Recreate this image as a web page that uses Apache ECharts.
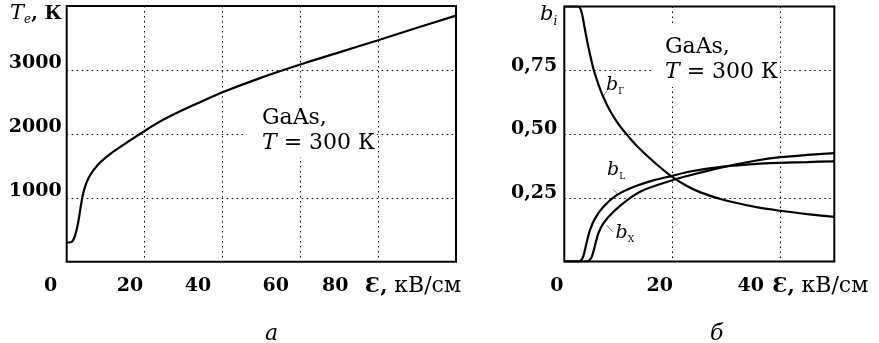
<!DOCTYPE html>
<html>
<head>
<meta charset="utf-8">
<script src="https://cdn.jsdelivr.net/npm/echarts@6/dist/echarts.min.js"></script>
<style>
  html, body { margin: 0; padding: 0; background: #fff; }
  #chart { width: 879px; height: 343px; }
</style>
</head>
<body>
<div id="chart"></div>
<script>
// panel a: electron temperature vs field
const teField = [0, 1, 1.6, 2.2, 2.7, 3.2, 3.6, 4.4, 5.7, 7.9, 11.3, 15.6, 20, 24, 29, 34.4, 40, 50, 60, 70, 80, 90, 100];
const teValues = [300, 305, 330, 420, 540, 700, 860, 1110, 1320, 1510, 1690, 1870, 2045, 2195, 2350, 2500, 2650, 2880, 3085, 3275, 3465, 3660, 3850];

// panel b: valley populations
const gammaField = [0, 2.4, 2.9, 3.3, 3.65, 4.1, 4.75, 5.4, 6.3, 7.2, 8.5, 10, 11.6, 13.4, 16.5, 19.6, 22.7, 25.1, 29.4, 35.6, 40, 45, 50];
const gammaValues = [1.0, 1.0, 0.995, 0.97, 0.93, 0.878, 0.813, 0.755, 0.696, 0.646, 0.59, 0.54, 0.497, 0.454, 0.392, 0.338, 0.296, 0.272, 0.242, 0.213, 0.199, 0.186, 0.175];
const lField = [0, 2.6, 3.1, 3.5, 4.1, 4.75, 5.7, 7.2, 9.7, 12.8, 16.5, 19.6, 23.3, 29.4, 35.6, 40, 45, 50];
const lValues = [0, 0, 0.005, 0.019, 0.071, 0.123, 0.169, 0.214, 0.26, 0.292, 0.318, 0.334, 0.353, 0.372, 0.383, 0.387, 0.39, 0.393];
const xField = [0, 4.0, 4.6, 5.1, 5.7, 6.3, 7.2, 9.1, 11.6, 14.6, 19, 23.3, 29.4, 35.6, 40, 45, 50];
const xValues = [0, 0, 0.004, 0.019, 0.064, 0.11, 0.149, 0.195, 0.24, 0.279, 0.312, 0.338, 0.37, 0.396, 0.409, 0.418, 0.425];

const teTicks = [1000, 2000, 3000];
const bTicks = [0.25, 0.5, 0.75];

function pairs(xs, ys) {
    return xs.map((x, i) => [x, ys[i]]);
}

const SERIF = 'DejaVu Serif';
const tickFont = { fontFamily: SERIF, fontWeight: 'bold', fontSize: 19, color: '#000' };
const dotted = { show: true, lineStyle: { color: '#000', width: 1, type: [1.5, 3.5] } };
const curve = { color: '#000', width: 2.2 };

const nameRich = {
    e: { fontFamily: SERIF, fontWeight: 'bold', fontSize: 21, color: '#000', lineHeight: 20 },
    u: { fontFamily: SERIF, fontSize: 22, color: '#000', lineHeight: 20 }
};
const symRich = {
    t: { fontFamily: SERIF, fontStyle: 'italic', fontSize: 21, color: '#000', lineHeight: 24, verticalAlign: 'bottom', padding: [0, 0, 2, 0] },
    s: { fontFamily: SERIF, fontStyle: 'italic', fontSize: 12, color: '#000', lineHeight: 12, verticalAlign: 'bottom' },
    k: { fontFamily: SERIF, fontWeight: 'bold', fontSize: 19, color: '#000', lineHeight: 24, verticalAlign: 'bottom', padding: [0, 0, 2, 0] }
};
const curveRich = {
    t: { fontFamily: SERIF, fontStyle: 'italic', fontSize: 19, color: '#000', lineHeight: 22, verticalAlign: 'bottom', padding: [0, 0, 2, 0] },
    s: { fontFamily: SERIF, fontSize: 9, color: '#000', lineHeight: 10, verticalAlign: 'bottom' }
};
const boxRich = {
    r: { fontFamily: SERIF, fontSize: 22, color: '#000', lineHeight: 25 },
    i: { fontFamily: SERIF, fontSize: 22, fontStyle: 'italic', color: '#000', lineHeight: 25 }
};

function curveLabel(coord, sub) {
    return {
        coord: coord,
        symbol: 'circle',
        symbolSize: 0,
        label: { show: true, position: 'inside', formatter: '{t|b}{s|' + sub + '}', rich: curveRich }
    };
}
const leader = { color: '#555', width: 0.8, type: 'solid' };

const myChart = echarts.init(document.getElementById('chart'));
myChart.setOption({
    animation: false,
    backgroundColor: '#fff',
    title: [
        { text: 'а', left: 260, top: 318, textStyle: { fontFamily: SERIF, fontStyle: 'italic', fontWeight: 'normal', fontSize: 22, color: '#000' } },
        { text: 'б', left: 705, top: 318, textStyle: { fontFamily: SERIF, fontStyle: 'italic', fontWeight: 'normal', fontSize: 22, color: '#000' } }
    ],
    grid: [
        { left: 66.7, right: 423, top: 6, bottom: 81.3, show: true, borderColor: '#000', borderWidth: 2 },
        { left: 564.3, right: 44.7, top: 6.5, bottom: 81.5, show: true, borderColor: '#000', borderWidth: 2 }
    ],
    xAxis: [
        {
            type: 'value', gridIndex: 0, min: 0, max: 100, interval: 20,
            axisLine: { show: false }, axisTick: { show: false }, splitLine: dotted,
            axisLabel: {
                margin: 15, ...tickFont,
                formatter: v => ({ 0: '{a|0}', 20: '{b|20}', 40: '{c|40}', 60: '{d|60}', 80: '{f|80}' }[v] || ''),
                rich: {
                    a: { ...tickFont, padding: [0, 32, 0, 0] },
                    b: { ...tickFont, padding: [0, 29, 0, 0] },
                    c: { ...tickFont, padding: [0, 49, 0, 0] },
                    d: { ...tickFont, padding: [0, 49, 0, 0] },
                    f: { ...tickFont, padding: [0, 86, 0, 0] }
                }
            },
            name: '{e|Ɛ,}  {u|кВ/см}', nameLocation: 'end', nameGap: 5,
            nameTextStyle: { align: 'right', verticalAlign: 'top', padding: [15, 0, 0, 0], rich: nameRich }
        },
        {
            type: 'value', gridIndex: 1, min: 0, max: 50, interval: 20,
            axisLine: { show: false }, axisTick: { show: false }, splitLine: dotted,
            axisLabel: {
                margin: 15, ...tickFont, showMaxLabel: false,
                formatter: v => ({ 0: '{a|0}', 20: '{b|20}', 40: '{f|40}' }[v] || ''),
                rich: {
                    a: { ...tickFont, padding: [0, 15, 0, 0] },
                    b: { ...tickFont, padding: [0, 25, 0, 0] },
                    f: { ...tickFont, padding: [0, 59, 0, 0] }
                }
            },
            name: '{e|Ɛ,}  {u|кВ/см}', nameLocation: 'end', nameGap: 34,
            nameTextStyle: { align: 'right', verticalAlign: 'top', padding: [15, 0, 0, 0], rich: nameRich }
        }
    ],
    yAxis: [
        {
            type: 'value', gridIndex: 0, min: 0, max: 4000, interval: 1000,
            axisLine: { show: false }, axisTick: { show: false }, splitLine: dotted,
            axisLabel: {
                margin: 5, ...tickFont,
                formatter: v => (teTicks.includes(v) ? '{v|' + v + '}' : ''),
                rich: { v: { ...tickFont, padding: [0, 0, 13, 0] } }
            },
            name: '{t|T}{s|e}{k|, К}', nameLocation: 'end', nameGap: 4,
            nameTextStyle: { align: 'right', verticalAlign: 'top', padding: [0, 5, 0, 0], rich: symRich }
        },
        {
            type: 'value', gridIndex: 1, min: 0, max: 1, interval: 0.25,
            axisLine: { show: false }, axisTick: { show: false }, splitLine: dotted,
            axisLabel: {
                margin: 7, ...tickFont,
                formatter: v => (bTicks.includes(v) ? '{v|' + v.toFixed(2).replace('.', ',') + '}' : ''),
                rich: { v: { ...tickFont, padding: [0, 0, 9, 0] } }
            },
            name: '{t|b}{s|i}', nameLocation: 'end', nameGap: 3,
            nameTextStyle: { align: 'right', verticalAlign: 'top', padding: [0, 7, 0, 0], rich: symRich }
        }
    ],
    series: [
        {
            type: 'line', xAxisIndex: 0, yAxisIndex: 0, data: pairs(teField, teValues),
            showSymbol: false, smooth: 0.3, lineStyle: curve, z: 5
        },
        {
            type: 'line', xAxisIndex: 1, yAxisIndex: 1, data: pairs(gammaField, gammaValues),
            showSymbol: false, smooth: 0.3, lineStyle: curve, z: 5,
            markPoint: { silent: true, data: [curveLabel([9.4, 0.69], 'Г')] },
            markLine: { silent: true, symbol: ['none', 'none'], label: { show: false }, lineStyle: leader,
                data: [[{ coord: [7.3, 0.65] }, { coord: [7.9, 0.67] }]] }
        },
        {
            type: 'line', xAxisIndex: 1, yAxisIndex: 1, data: pairs(lField, lValues),
            showSymbol: false, smooth: 0.3, lineStyle: curve, z: 5,
            markPoint: { silent: true, data: [curveLabel([9.6, 0.357], 'L')] },
            markLine: { silent: true, symbol: ['none', 'none'], label: { show: false }, lineStyle: leader,
                data: [[{ coord: [9.07, 0.282] }, { coord: [10.0, 0.262] }]] }
        },
        {
            type: 'line', xAxisIndex: 1, yAxisIndex: 1, data: pairs(xField, xValues),
            showSymbol: false, smooth: 0.3, lineStyle: curve, z: 5,
            markPoint: { silent: true, data: [curveLabel([11.2, 0.111], 'X')] },
            markLine: { silent: true, symbol: ['none', 'none'], label: { show: false }, lineStyle: leader,
                data: [[{ coord: [7.85, 0.143] }, { coord: [8.96, 0.116] }]] }
        }
    ],
    graphic: [
        {
            type: 'text', x: 247, y: 100, z: 100,
            style: { text: '{r|GaAs,}\n{i|T}{r| = 300 К}', rich: boxRich, backgroundColor: '#fff', padding: [6, 2, 1, 15], verticalAlign: 'top', align: 'left' }
        },
        {
            type: 'text', x: 653, y: 25, z: 100,
            style: { text: '{r|GaAs,}\n{i|T}{r| = 300 К}', rich: boxRich, backgroundColor: '#fff', padding: [10, 2, 2, 12], verticalAlign: 'top', align: 'left' }
        }
    ]
});
</script>
</body>
</html>
